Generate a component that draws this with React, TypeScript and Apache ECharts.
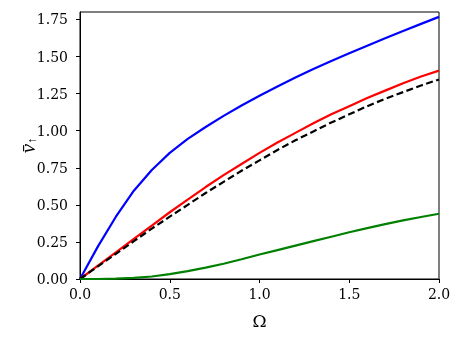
import React, { useEffect, useRef } from "react";
import * as echarts from "echarts";

const omega = [0, 0.1, 0.2, 0.3, 0.4, 0.5, 0.6, 0.7, 0.8, 0.9, 1.0, 1.1, 1.2, 1.3, 1.4, 1.5, 1.6, 1.7, 1.8, 1.9, 2.0];
const blueValues = [0, 0.22, 0.42, 0.595, 0.735, 0.85, 0.945, 1.025, 1.1, 1.17, 1.235, 1.298, 1.358, 1.415, 1.47, 1.522, 1.573, 1.623, 1.672, 1.72, 1.767];
const redValues = [0, 0.09, 0.18, 0.27, 0.36, 0.45, 0.535, 0.62, 0.7, 0.775, 0.85, 0.92, 0.985, 1.05, 1.11, 1.165, 1.22, 1.27, 1.32, 1.365, 1.405];
const blackValues = [0, 0.085, 0.17, 0.255, 0.34, 0.42, 0.5, 0.58, 0.655, 0.73, 0.8, 0.87, 0.935, 0.995, 1.055, 1.11, 1.165, 1.215, 1.26, 1.305, 1.345];
const greenValues = [0, 0.0, 0.002, 0.007, 0.017, 0.033, 0.053, 0.077, 0.103, 0.133, 0.165, 0.195, 0.225, 0.255, 0.285, 0.315, 0.343, 0.37, 0.395, 0.418, 0.44];

const FONT = "DejaVu Serif";
const NAME_FONT = "Liberation Serif";

function pairs(ys: number[]) {
  return omega.map((x, i) => [x, ys[i]]);
}

export default function App() {
  const ref = useRef<HTMLDivElement>(null);
  useEffect(() => {
    if (!ref.current) return;
    const chart = echarts.init(ref.current, null, { renderer: "svg" });
    const lineSeries = (data: number[], color: string, dashed = false) => ({
      type: "line",
      data: pairs(data),
      showSymbol: false,
      symbol: "none",
      lineStyle: { color, width: 2.2, type: dashed ? [7, 3.5] : "solid" },
      z: 3,
    });
    chart.setOption({
      animation: false,
      grid: {
        left: 80,
        top: 12,
        right: 24,
        bottom: 64,
        containLabel: false,
        outerBoundsMode: "none",
        show: true,
        borderColor: "#000",
        borderWidth: 1,
      },
      xAxis: {
        type: "value",
        min: 0,
        max: 2,
        interval: 0.5,
        name: "Ω",
        nameLocation: "middle",
        nameGap: 33,
        nameMoveOverlap: false,
        nameTextStyle: { fontFamily: FONT, fontSize: 17, color: "#000" },
        axisLine: { show: true, lineStyle: { color: "#000", width: 1 } },
        axisTick: { show: true, length: 4, lineStyle: { color: "#000", width: 1 } },
        axisLabel: {
          fontFamily: FONT,
          fontSize: 14,
          color: "#000",
          margin: 8,
          formatter: (v: number) => v.toFixed(1),
        },
        splitLine: { show: false },
      },
      yAxis: {
        type: "value",
        min: 0,
        max: 1.8,
        interval: 0.25,
        name: "{v|v̄}{s|↑}",
        nameLocation: "middle",
        nameGap: 42,
        nameMoveOverlap: false,
        nameRotate: 90,
        nameTextStyle: {
          fontFamily: NAME_FONT,
          fontSize: 18,
          color: "#000",
          rich: {
            v: { fontFamily: NAME_FONT, fontStyle: "italic", fontSize: 21, color: "#000" },
            s: { fontFamily: NAME_FONT, fontSize: 12, color: "#000", padding: [9, 0, 0, 0] },
          },
        },
        axisLine: { show: true, lineStyle: { color: "#000", width: 1 } },
        axisTick: { show: true, length: 4, lineStyle: { color: "#000", width: 1 } },
        axisLabel: {
          fontFamily: FONT,
          fontSize: 14,
          color: "#000",
          margin: 12,
          showMaxLabel: false,
          formatter: (v: number) => v.toFixed(2),
        },
        splitLine: { show: false },
      },
      series: [
        lineSeries(blueValues, "#0000ff"),
        lineSeries(redValues, "#ff0000"),
        lineSeries(blackValues, "#000000", true),
        lineSeries(greenValues, "#008000"),
      ],
    });
    return () => chart.dispose();
  }, []);
  return (
    <div
      ref={ref}
      style={{ position: "fixed", left: 0, top: 0, width: 463, height: 343 }}
    />
  );
}
